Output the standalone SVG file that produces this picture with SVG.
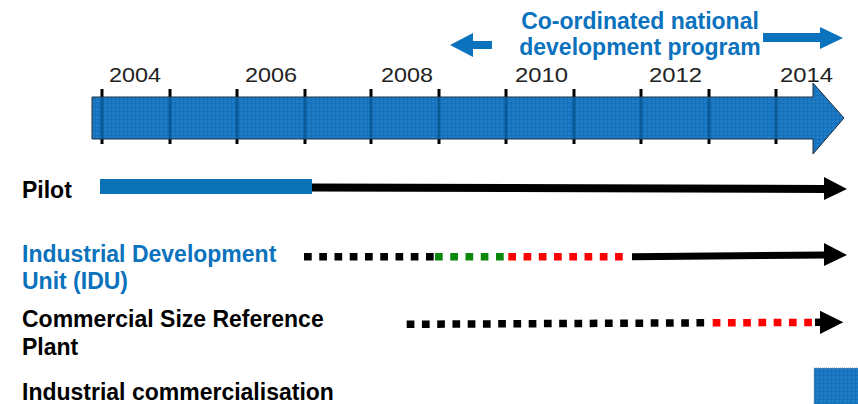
<svg xmlns="http://www.w3.org/2000/svg" width="858" height="404" viewBox="0 0 858 404">
<defs>
<pattern id="grid" width="4" height="4" patternUnits="userSpaceOnUse">
<rect width="4" height="4" fill="#1c7cc8"/>
<path d="M3.5 0V4M0 3.5H4" stroke="#176fb8" stroke-width="1"/>
</pattern>
<style>
.yr{font-family:"Liberation Sans",Arial,sans-serif;font-size:20px;fill:#222}
.lbl{font-family:"Liberation Sans",Arial,sans-serif;font-size:23px;font-weight:bold;fill:#000}
.blue{fill:#0b72bd}
.dot{stroke-width:7.5;stroke-dasharray:7.7 7.55;fill:none}
.tick{stroke:#000;stroke-width:3}
.tickin{stroke:#0b5a98;stroke-width:3}
</style>
</defs>
<rect width="858" height="404" fill="#fff"/>

<g id="title">
<text class="lbl blue" x="640" y="29" text-anchor="middle">Co-ordinated national</text>
<text class="lbl blue" x="640" y="55" text-anchor="middle">development program</text>
<polygon class="blue" points="450,45 473,33 473,41 492,41 492,49 473,49 473,57"/>
<polygon class="blue" points="763,33 820,33 820,27 843,38 820,49 820,42 763,42"/>
</g>

<g id="timeline">
<g id="ticks">
<path class="tick" d="M102 89V144M170 89V144M237 89V144M305 89V144M371 89V144M439 89V144M506 89V144M574 89V144M641 89V144M709 89V144M776 89V144"/>
</g>
<polygon points="92,97 813,97 813,83 844,118 813,154 813,139 92,139" fill="url(#grid)" stroke="#1e2d3c" stroke-width="1"/>
<path class="tickin" d="M102 97.5V138.5M170 97.5V138.5M237 97.5V138.5M305 97.5V138.5M371 97.5V138.5M439 97.5V138.5M506 97.5V138.5M574 97.5V138.5M641 97.5V138.5M709 97.5V138.5M776 97.5V138.5"/>
<text class="yr" x="109" y="82" textLength="52" lengthAdjust="spacingAndGlyphs">2004</text>
<text class="yr" x="245" y="82" textLength="52" lengthAdjust="spacingAndGlyphs">2006</text>
<text class="yr" x="381" y="82" textLength="52" lengthAdjust="spacingAndGlyphs">2008</text>
<text class="yr" x="515" y="82" textLength="53" lengthAdjust="spacingAndGlyphs">2010</text>
<text class="yr" x="649" y="82" textLength="53" lengthAdjust="spacingAndGlyphs">2012</text>
<text class="yr" x="780" y="82" textLength="53" lengthAdjust="spacingAndGlyphs">2014</text>
</g>

<g id="pilot">
<text class="lbl" x="22" y="198">Pilot</text>
</g>
<g id="idu">
<text class="lbl blue" x="22" y="262">Industrial Development</text>
<text class="lbl blue" x="22" y="289">Unit (IDU)</text>
</g>
<g id="csrp">
<text class="lbl" x="22" y="327">Commercial Size Reference</text>
<text class="lbl" x="22" y="355">Plant</text>
</g>
<g id="industrial">
<text class="lbl" x="22" y="400">Industrial commercialisation</text>
<rect x="814" y="368" width="50" height="40" fill="url(#grid)" stroke="#8a9aa8" stroke-width="1" stroke-dasharray="1 1"/>
</g>

<g id="connectors">
<rect x="100" y="179" width="212" height="15" fill="#0b72b8"/>
<line x1="312" y1="187.5" x2="826" y2="189" stroke="#000" stroke-width="8"/>
<polygon points="824,177 847,189 824,200" fill="#000"/>

<line class="dot" x1="304" y1="256.7" x2="434" y2="256.7" stroke="#000"/>
<line class="dot" x1="435" y1="256.7" x2="505" y2="256.7" stroke="#0a880a"/>
<line class="dot" x1="508.3" y1="256.7" x2="624" y2="256.7" stroke="#ff0000"/>
<line x1="632" y1="256.7" x2="826" y2="255" stroke="#000" stroke-width="7"/>
<polygon points="824,243 847,255 824,266" fill="#000"/>

<line class="dot" x1="406.7" y1="324.3" x2="709" y2="322.8" stroke="#000"/>
<line class="dot" x1="712.7" y1="322.8" x2="814" y2="322.4" stroke="#ff0000"/>
<line x1="815" y1="322.3" x2="821" y2="322.3" stroke="#000" stroke-width="7.5"/>
<polygon points="820,310.7 843.3,322.3 820,334" fill="#000"/>
</g>
</svg>
